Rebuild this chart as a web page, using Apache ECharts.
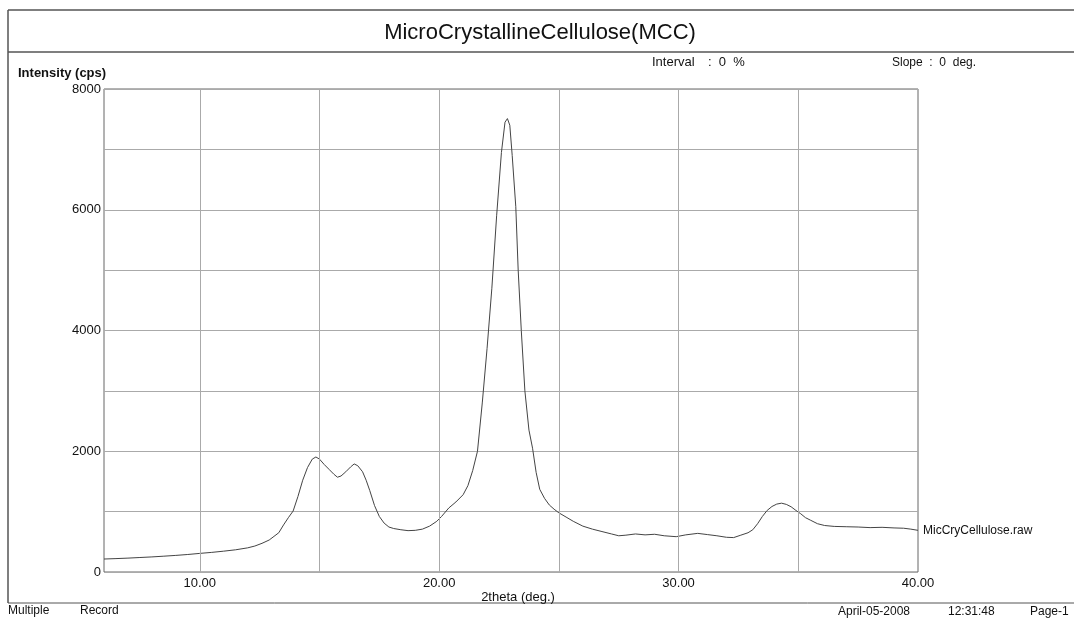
<!doctype html>
<html>

<head>
  <meta charset="utf-8">
  <title>MCC XRD</title>
  <script src="https://cdn.jsdelivr.net/npm/echarts@6/dist/echarts.min.js"></script>
  <style>
    html,
    body {
      margin: 0;
      padding: 0;
      background: #fff;
    }

    #main {
      width: 1074px;
      height: 621px;
    }
  </style>
</head>

<body>
  <div id="main"></div>
  <script>
    // 2theta (deg.)
    var twoTheta = [
      6.0, 6.5, 7.0, 7.5, 8.0, 8.5, 9.0, 9.5, 10.0, 10.5, 11.0, 11.5, 12.0, 12.3, 12.6, 12.9,
      13.1, 13.3, 13.5, 13.7, 13.9, 14.1, 14.3, 14.5, 14.7, 14.85, 15.0, 15.2, 15.4, 15.6, 15.75, 15.9,
      16.1, 16.3, 16.45, 16.6, 16.8, 16.95, 17.1, 17.3, 17.5, 17.7, 17.9, 18.1, 18.4, 18.7, 19.0, 19.3,
      19.6, 19.9, 20.1, 20.4, 20.7, 21.0, 21.2, 21.4, 21.6, 21.8, 22.0, 22.2, 22.4, 22.6, 22.75, 22.85,
      22.95, 23.05, 23.2, 23.3, 23.43, 23.58, 23.75, 23.9, 24.05, 24.2, 24.4, 24.6, 24.8, 25.0, 25.3, 25.6,
      26.0, 26.4, 26.8, 27.2, 27.5, 27.8, 28.2, 28.6, 29.0, 29.4, 29.9, 30.3, 30.8, 31.2, 31.6, 32.0,
      32.3, 32.6, 32.9, 33.1, 33.3, 33.5, 33.7, 33.9, 34.1, 34.3, 34.5, 34.7, 34.9, 35.1, 35.3, 35.5,
      35.8, 36.1, 36.5, 37.0, 37.5, 38.0, 38.5, 39.0, 39.4, 39.7, 40.0
    ];
    // Intensity (cps)
    var intensity = [
      215, 222, 230, 240, 250, 262, 275, 290, 308, 325, 345, 368, 400, 430, 475, 530,
      590, 650, 780, 900, 1010, 1250, 1520, 1730, 1870, 1905, 1870, 1780, 1700, 1620, 1570, 1590,
      1660, 1740, 1790, 1760, 1660, 1520, 1350, 1100, 920, 810, 745, 720, 700, 685, 690, 710,
      760, 840, 920, 1060, 1160, 1280, 1430, 1680, 2000, 2800, 3700, 4700, 5900, 6950, 7450, 7510,
      7400, 6900, 6050, 5000, 4000, 3000, 2350, 2050, 1650, 1370, 1220, 1110, 1040, 980, 910, 840,
      760, 710, 670, 630, 600, 610, 630, 615, 625, 600, 585, 615, 640, 620, 600, 575,
      570, 610, 650, 700, 800, 920, 1020, 1085, 1125, 1140, 1120, 1080, 1020, 965, 900, 860,
      800, 770, 755, 750, 745, 735, 740, 730, 725, 710, 690
    ];
    var xLabels = [10, 20, 30, 40];
    var xGrid = [10, 15, 20, 25, 30, 35];
    var seriesName = 'MicCryCellulose.raw';

    var font = '"Liberation Sans", Arial, sans-serif';
    var points = twoTheta.map(function (x, i) { return [x, intensity[i]]; });

    // free text on the page, (x, y) is the anchor point, baseline middle
    function txt(x, y, s, size, align, weight) {
      return {
        type: 'text', x: x, y: y, silent: true,
        style: {
          text: s, fill: '#111', fontFamily: font, fontSize: size,
          fontWeight: weight || 'normal',
          align: align || 'left', verticalAlign: 'middle'
        }
      };
    }

    function hline(x1, x2, y, w) {
      return { type: 'line', silent: true, shape: { x1: x1, y1: y, x2: x2, y2: y }, style: { stroke: '#555', lineWidth: w } };
    }

    var myChart = echarts.init(document.getElementById('main'));
    var option = {
      backgroundColor: '#fff',
      animation: false,
      grid: {
        left: 104, right: 156, top: 89, bottom: 49,
        show: true, borderColor: '#666', borderWidth: 1
      },
      xAxis: {
        type: 'value', min: 6, max: 40,
        axisLine: { show: false },
        axisTick: { show: false },
        splitLine: { show: false },
        axisLabel: {
          customValues: xLabels, color: '#111', fontSize: 13, fontFamily: font, margin: 5,
          formatter: function (v) { return v.toFixed(2); }
        }
      },
      yAxis: {
        type: 'value', min: 0, max: 8000, interval: 1000,
        axisLine: { show: false },
        axisTick: { show: false },
        splitLine: { lineStyle: { color: '#aaa', width: 1 } },
        axisLabel: {
          color: '#111', fontSize: 13, fontFamily: font, margin: 3,
          formatter: function (v) { return v % 2000 === 0 ? String(v) : ''; }
        }
      },
      series: [{
        name: seriesName,
        type: 'line',
        data: points,
        showSymbol: false,
        lineStyle: { color: '#444', width: 1 },
        endLabel: {
          show: true, formatter: seriesName, color: '#111',
          fontSize: 12, fontFamily: font, distance: 5
        },
        markLine: {
          silent: true, symbol: 'none', label: { show: false },
          lineStyle: { color: '#aaa', width: 1, type: 'solid' },
          data: xGrid.map(function (v) { return { xAxis: v }; })
        }
      }],
      graphic: [
        // page frame
        hline(8, 1074, 10, 1.5),
        hline(8, 1074, 52, 1.5),
        { type: 'line', silent: true, shape: { x1: 8, y1: 10, x2: 8, y2: 603 }, style: { stroke: '#555', lineWidth: 1.5 } },
        hline(8, 1074, 603, 1),
        txt(540, 33, 'MicroCrystallineCellulose(MCC)', 22, 'center'),
        txt(652, 62, 'Interval', 13),
        txt(708, 62, ':  0  %', 13),
        txt(892, 63, 'Slope  :  0  deg.', 12),
        txt(18, 73, 'Intensity (cps)', 13, 'left', 'bold'),
        txt(518, 597, '2theta (deg.)', 13, 'center'),
        txt(8, 611, 'Multiple', 12),
        txt(80, 611, 'Record', 12),
        txt(838, 612, 'April-05-2008', 12),
        txt(948, 612, '12:31:48', 12),
        txt(1030, 612, 'Page-1', 12)
      ]
    };
    myChart.setOption(option);
  </script>
</body>

</html>
